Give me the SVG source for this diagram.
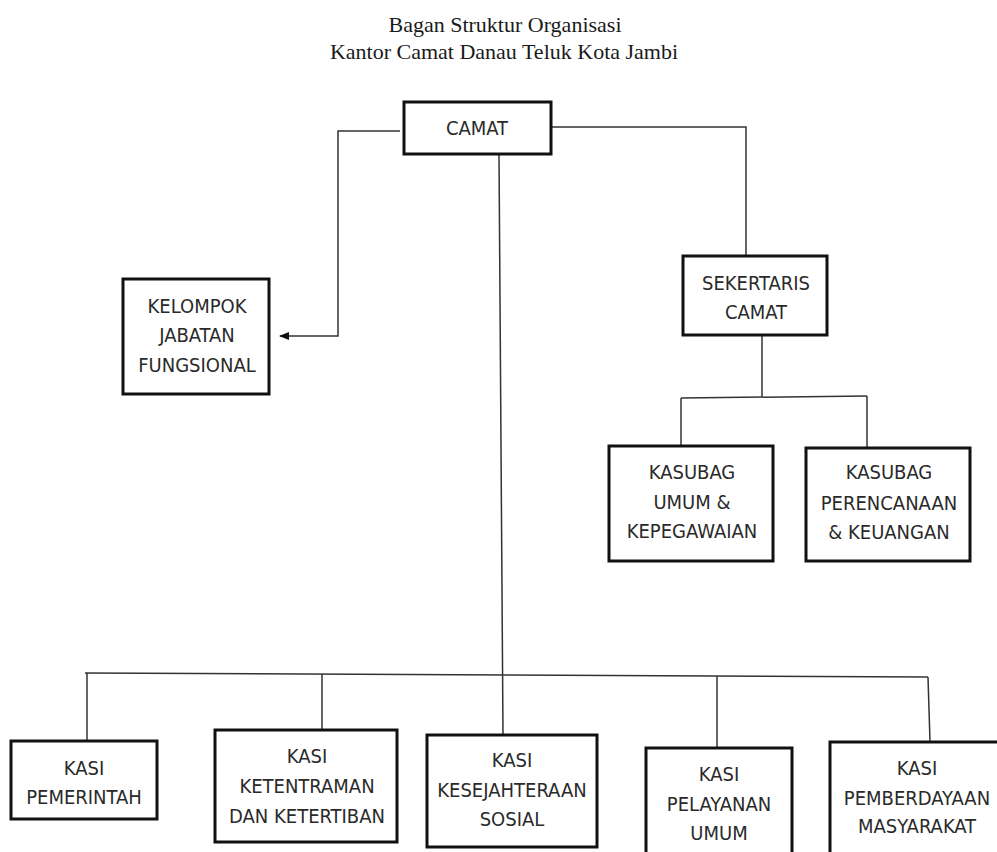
<svg xmlns="http://www.w3.org/2000/svg" width="997" height="852" viewBox="0 0 997 852">
<style>
.title{font-family:"Liberation Serif","Times New Roman",serif;font-size:22px;fill:#1a1a1a;text-anchor:middle}
.box{fill:#fff;stroke:#111;stroke-width:3}
.lbl{font-family:"DejaVu Sans Condensed","DejaVu Sans",sans-serif;font-stretch:condensed;font-size:20px;fill:#2a2a2a;text-anchor:middle}
.ln{fill:none;stroke:#333;stroke-width:1.5}
</style>
<defs>
<marker id="arr" markerWidth="10" markerHeight="8" refX="9" refY="4" orient="auto" markerUnits="userSpaceOnUse">
<path d="M0,0 L10,4 L0,8 Z" fill="#111"/>
</marker>
</defs>
<rect width="997" height="852" fill="#fff"/>
<g id="title">
<text class="title" x="505" y="32">Bagan Struktur Organisasi</text>
<text class="title" x="504" y="59">Kantor Camat Danau Teluk Kota Jambi</text>
</g>
<g id="connectors">
<polyline class="ln" points="400,131 338,131 338,336 280,336" marker-end="url(#arr)"/>
<polyline class="ln" points="551,127 746,127 746,256"/>
<line class="ln" x1="499" y1="154" x2="503" y2="735"/>
<line class="ln" x1="762" y1="335" x2="762" y2="397"/>
<line class="ln" x1="681" y1="398" x2="867" y2="396"/>
<line class="ln" x1="681" y1="398" x2="681" y2="446"/>
<line class="ln" x1="867" y1="396" x2="867" y2="448"/>
<line class="ln" x1="85" y1="673" x2="928" y2="677"/>
<line class="ln" x1="87" y1="673" x2="87" y2="741"/>
<line class="ln" x1="322" y1="674" x2="322" y2="730"/>
<line class="ln" x1="717" y1="676" x2="717" y2="748"/>
<line class="ln" x1="928" y1="677" x2="930" y2="742"/>
</g>
<g id="camat">
<rect class="box" x="404" y="102" width="147" height="52"/>
<text class="lbl" x="477" y="135">CAMAT</text>
</g>
<g id="kelompok">
<rect class="box" x="123" y="279" width="146" height="115"/>
<text class="lbl" x="197" y="313">KELOMPOK</text>
<text class="lbl" x="197" y="342">JABATAN</text>
<text class="lbl" x="197" y="372">FUNGSIONAL</text>
</g>
<g id="sekertaris">
<rect class="box" x="683" y="256" width="144" height="79"/>
<text class="lbl" x="756" y="290">SEKERTARIS</text>
<text class="lbl" x="756" y="319">CAMAT</text>
</g>
<g id="kasubag-umum">
<rect class="box" x="609" y="446" width="164" height="115"/>
<text class="lbl" x="692" y="479">KASUBAG</text>
<text class="lbl" x="692" y="509">UMUM &amp;</text>
<text class="lbl" x="692" y="538">KEPEGAWAIAN</text>
</g>
<g id="kasubag-perencanaan">
<rect class="box" x="806" y="448" width="164" height="113"/>
<text class="lbl" x="889" y="479">KASUBAG</text>
<text class="lbl" x="889" y="510">PERENCANAAN</text>
<text class="lbl" x="889" y="539">&amp; KEUANGAN</text>
</g>
<g id="kasi-pemerintah">
<rect class="box" x="11" y="741" width="146" height="78"/>
<text class="lbl" x="84" y="775">KASI</text>
<text class="lbl" x="84" y="804">PEMERINTAH</text>
</g>
<g id="kasi-ketentraman">
<rect class="box" x="215" y="730" width="182" height="112"/>
<text class="lbl" x="307" y="763">KASI</text>
<text class="lbl" x="307" y="793">KETENTRAMAN</text>
<text class="lbl" x="307" y="823">DAN KETERTIBAN</text>
</g>
<g id="kasi-kesejahteraan">
<rect class="box" x="427" y="735" width="170" height="112"/>
<text class="lbl" x="512" y="767">KASI</text>
<text class="lbl" x="512" y="797">KESEJAHTERAAN</text>
<text class="lbl" x="512" y="826">SOSIAL</text>
</g>
<g id="kasi-pelayanan">
<rect class="box" x="646" y="748" width="146" height="112"/>
<text class="lbl" x="719" y="781">KASI</text>
<text class="lbl" x="719" y="811">PELAYANAN</text>
<text class="lbl" x="719" y="840">UMUM</text>
</g>
<g id="kasi-pemberdayaan">
<rect class="box" x="830" y="742" width="174" height="118"/>
<text class="lbl" x="917" y="775">KASI</text>
<text class="lbl" x="917" y="805">PEMBERDAYAAN</text>
<text class="lbl" x="917" y="833">MASYARAKAT</text>
</g>
</svg>
